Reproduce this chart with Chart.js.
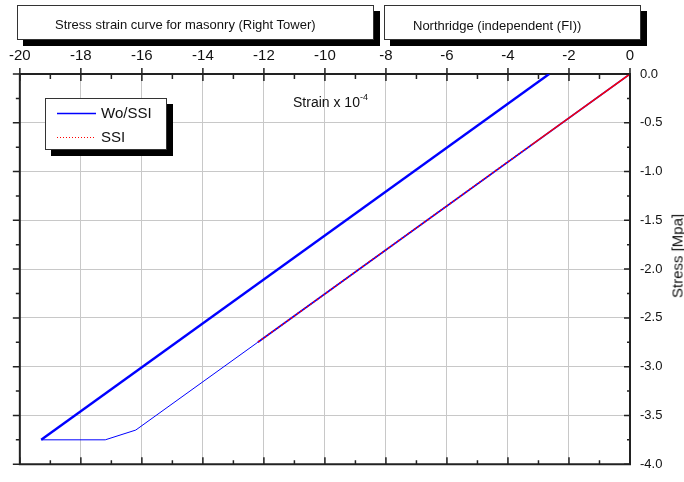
<!DOCTYPE html>
<html>
<head>
<meta charset="utf-8">
<script src="https://cdn.jsdelivr.net/npm/chart.js@4/dist/chart.umd.min.js"></script>
<style>
  body { margin: 0; background: #fff; font-family: "Liberation Sans", Arial, sans-serif; }
  #wrap { position: relative; width: 684px; height: 482px; overflow: hidden; }
  canvas { position: absolute; left: 0; top: 0; }
  .box {
    position: absolute; background: #fff; border: 1px solid #333;
    box-shadow: 6px 6px 0 #000; box-sizing: border-box;
  }
  .lbl { position: absolute; white-space: nowrap; color: #111; }
</style>
</head>
<body>
<div id="wrap">
  <canvas id="c" width="684" height="482"></canvas>

  <div class="box" style="left:17px;top:5px;width:357px;height:35px;">
    <span class="lbl" style="left:37px;top:11px;font-size:13px;">Stress strain curve for masonry (Right Tower)</span>
  </div>
  <div class="box" style="left:384px;top:5px;width:257px;height:35px;">
    <span class="lbl" style="left:28px;top:12px;font-size:13px;">Northridge (independent (FI))</span>
  </div>

  <div class="box" id="legend" style="left:45px;top:98px;width:122px;height:52px;">
    <canvas id="legendSamples" width="50" height="50" style="left:0;top:0;"></canvas>
  </div>

  <span class="lbl" style="left:293px;top:92px;font-size:14px;">Strain x 10<sup style="font-size:9px;vertical-align:7px;">-4</sup></span>
  <span class="lbl" style="left:677px;top:256px;font-size:15px;transform:translate(-50%,-50%) rotate(-90deg);">Stress [Mpa]</span>
</div>

<script>
// Wo/SSI path (strain x 1e-4, stress MPa)
const wossiStrain = [0, -12.2, -16.2, -17.2, -19.3, -2.65];
const wossiStress = [0, -2.75, -3.65, -3.75, -3.75, 0];

// SSI path
const ssiStrain = [0, -3.2, -12.2];
const ssiStress = [0, -0.72, -2.75];

const seriesNames = ["Wo/SSI", "SSI"];
const seriesColors = ["#0000ff", "#ff0000"];

// axis ticks
const xTicks = [-20, -18, -16, -14, -12, -10, -8, -6, -4, -2, 0];
const yTicks = [0, -0.5, -1, -1.5, -2, -2.5, -3, -3.5, -4];

function toPoints(xs, ys) {
    return xs.map((x, i) => ({ x: x, y: ys[i] }));
}

// legend: labels as html text, samples drawn on a small canvas
const legend = document.getElementById('legend');
legend.insertAdjacentHTML('beforeend',
    '<span class="lbl" style="left:55px;top:5px;font-size:15px;">' + seriesNames[0] + '</span>' +
    '<span class="lbl" style="left:55px;top:29px;font-size:15px;">' + seriesNames[1] + '</span>');
const lctx = document.getElementById('legendSamples').getContext('2d');
lctx.lineWidth = 1.3;
lctx.strokeStyle = seriesColors[0];
lctx.beginPath(); lctx.moveTo(11, 14.5); lctx.lineTo(51, 14.5); lctx.stroke();
lctx.strokeStyle = seriesColors[1];
lctx.lineWidth = 1;
lctx.setLineDash([1, 2]);
lctx.beginPath(); lctx.moveTo(11, 38.5); lctx.lineTo(51, 38.5); lctx.stroke();

// frame + inner/minor ticks
const framePlugin = {
    id: 'frame',
    afterDraw(chart) {
        const ctx = chart.ctx;
        const a = chart.chartArea;
        const xs = chart.scales.x;
        const ys = chart.scales.y;
        ctx.save();
        ctx.strokeStyle = '#222';
        ctx.lineWidth = 2;
        ctx.beginPath();
        ctx.moveTo(a.left, a.top - 1);
        ctx.lineTo(a.left, a.bottom + 1);
        ctx.moveTo(a.left - 1, a.bottom);
        ctx.lineTo(a.right + 1, a.bottom);
        ctx.stroke();

        ctx.lineWidth = 1.5;
        ctx.beginPath();
        for (let v = -20; v <= 0; v++) {
            const px = xs.getPixelForValue(v);
            const major = v % 2 === 0;
            // top
            ctx.moveTo(px, major ? a.top - 6 : a.top);
            ctx.lineTo(px, a.top + (major ? 7 : 5));
            // bottom
            ctx.moveTo(px, a.bottom);
            ctx.lineTo(px, a.bottom - (major ? 7 : 4));
        }
        for (let k = 0; k <= 16; k++) {
            const v = -k * 0.25;
            const py = ys.getPixelForValue(v);
            const major = k % 2 === 0;
            // left (outside)
            ctx.moveTo(a.left, py);
            ctx.lineTo(a.left - (major ? 7 : 4), py);
            // right (inside)
            ctx.moveTo(a.right, py);
            ctx.lineTo(a.right - (major ? 6 : 3), py);
        }
        ctx.stroke();
        ctx.restore();
    }
};

new Chart(document.getElementById('c'), {
    type: 'line',
    data: {
        datasets: [
            {
                label: seriesNames[0],
                data: toPoints(wossiStrain, wossiStress),
                borderColor: seriesColors[0],
                borderWidth: 1,
                pointRadius: 0,
                tension: 0,
                fill: false,
                order: 1,
                segment: {
                    borderWidth: c => c.p0DataIndex === 0 ? 1.6 : (c.p0DataIndex === 4 ? 2.4 : 1)
                }
            },
            {
                label: seriesNames[1],
                data: toPoints(ssiStrain, ssiStress),
                borderColor: seriesColors[1],
                borderWidth: 1.5,
                pointRadius: 0,
                tension: 0,
                fill: false,
                order: 0,
                segment: {
                    borderDash: c => c.p0DataIndex === 0 ? undefined : [2, 2]
                }
            }
        ]
    },
    options: {
        responsive: false,
        animation: false,
        layout: { padding: { left: 17, top: 0, right: 0, bottom: 7 } },
        plugins: {
            legend: { display: false },
            tooltip: { enabled: false }
        },
        scales: {
            x: {
                type: 'linear',
                position: 'top',
                min: -20,
                max: 0,
                afterBuildTicks: s => { s.ticks = xTicks.map(v => ({ value: v })); },
                afterFit: s => { s.height = 74; },
                ticks: {
                    font: { family: 'Liberation Sans, Arial, sans-serif', size: 15 },
                    color: '#111',
                    padding: 9,
                    maxRotation: 0,
                    autoSkip: false
                },
                grid: { color: '#c8c8c8', lineWidth: 1, drawTicks: false },
                border: { color: '#222', width: 2 }
            },
            y: {
                type: 'linear',
                position: 'right',
                min: -4,
                max: 0,
                afterBuildTicks: s => { s.ticks = yTicks.map(v => ({ value: v })); },
                afterFit: s => { s.width = 54; },
                ticks: {
                    font: { family: 'Liberation Sans, Arial, sans-serif', size: 13 },
                    color: '#111',
                    padding: 10,
                    callback: v => v.toFixed(1)
                },
                grid: { color: '#c8c8c8', lineWidth: 1, drawTicks: false },
                border: { color: '#222', width: 2 }
            }
        }
    },
    plugins: [framePlugin]
});
</script>
</body>
</html>
